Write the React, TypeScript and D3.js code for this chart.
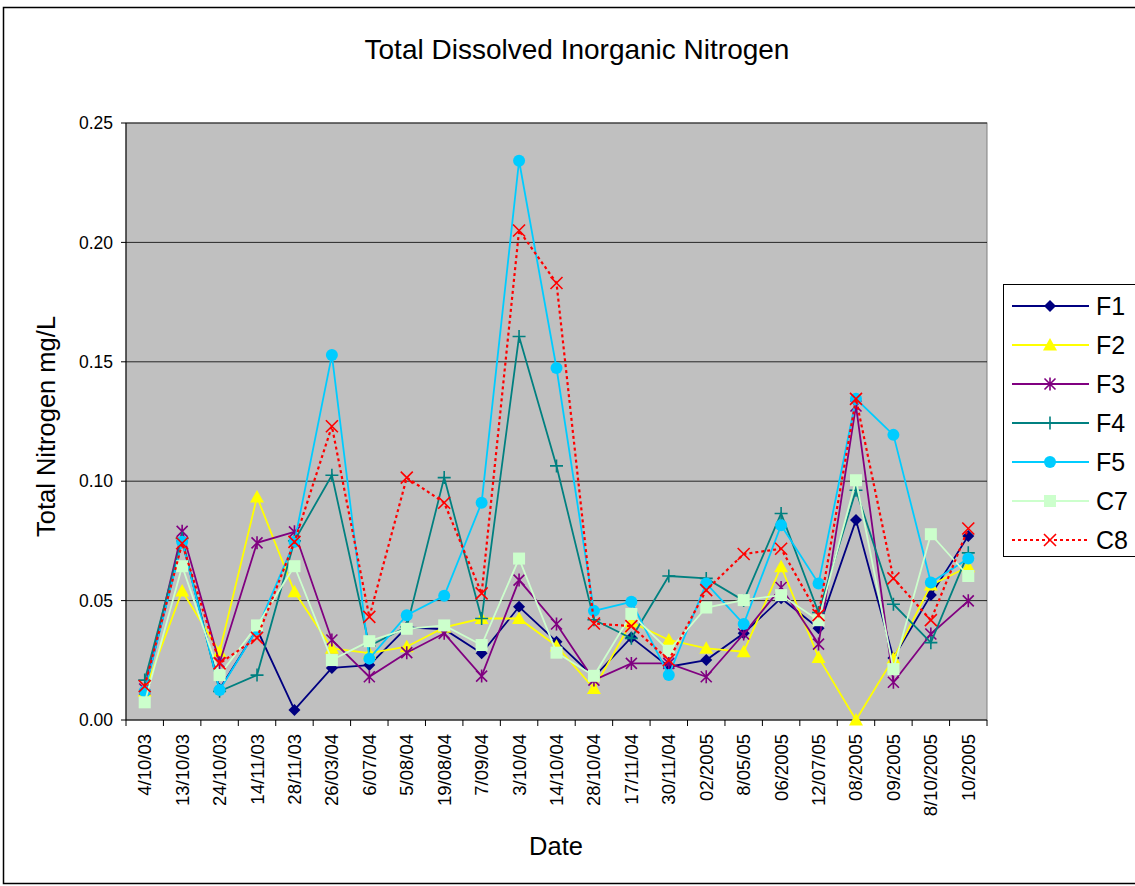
import { useMemo } from "react";
import * as d3 from "d3";

const dates = [
  "4/10/03", "13/10/03", "24/10/03", "14/11/03", "28/11/03", "26/03/04", "6/07/04", "5/08/04",
  "19/08/04", "7/09/04", "3/10/04", "14/10/04", "28/10/04", "17/11/04", "30/11/04", "02/2005",
  "8/05/05", "06/2005", "12/07/05", "08/2005", "09/2005", "8/10/2005", "10/2005",
];

const f1 = [0.0126, 0.075, 0.013, 0.038, 0.0042, 0.0218, 0.023, 0.0388, 0.038, 0.0279, 0.0474, 0.0328, 0.018, 0.0346, 0.0223, 0.0251, 0.0363, 0.051, 0.0384, 0.0837, 0.026, 0.0523, 0.0771];
const f2 = [0.012, 0.054, 0.0286, 0.0934, 0.0537, 0.03, 0.028, 0.0307, 0.0388, 0.0425, 0.0425, 0.031, 0.0132, 0.041, 0.0335, 0.03, 0.0286, 0.0642, 0.0262, 0.0, 0.0258, 0.0565, 0.0642];
const f3 = [0.013, 0.079, 0.024, 0.0742, 0.0788, 0.0335, 0.0181, 0.0282, 0.0363, 0.0184, 0.0586, 0.0402, 0.0167, 0.0237, 0.0237, 0.0181, 0.036, 0.0555, 0.0318, 0.1315, 0.0158, 0.036, 0.0499];
const f4 = [0.0167, 0.076, 0.012, 0.0188, 0.075, 0.1025, 0.031, 0.039, 0.1015, 0.0425, 0.1606, 0.1064, 0.042, 0.0342, 0.0603, 0.0593, 0.05, 0.0865, 0.045, 0.0962, 0.0485, 0.0324, 0.07];
const f5 = [0.012, 0.0746, 0.0126, 0.038, 0.0746, 0.1528, 0.0257, 0.0439, 0.052, 0.091, 0.2342, 0.1474, 0.0457, 0.0495, 0.0188, 0.0572, 0.0402, 0.0816, 0.0572, 0.1345, 0.1194, 0.0576, 0.0676];
const c7 = [0.0074, 0.0644, 0.0188, 0.0396, 0.0644, 0.0251, 0.033, 0.0382, 0.0396, 0.0314, 0.0676, 0.0282, 0.0185, 0.0444, 0.029, 0.0471, 0.0502, 0.0523, 0.0418, 0.1004, 0.0213, 0.0778, 0.0603];
const c8 = [0.0142, 0.074, 0.0237, 0.0344, 0.0746, 0.123, 0.0432, 0.1015, 0.091, 0.053, 0.205, 0.183, 0.0404, 0.0393, 0.0251, 0.0544, 0.0695, 0.0717, 0.0439, 0.1345, 0.0593, 0.0418, 0.0802];

const yTicks = [0, 0.05, 0.1, 0.15, 0.2, 0.25];

type Marker = "diamond" | "triangle" | "asterisk" | "plus" | "circle" | "square" | "x";

const series: { name: string; values: number[]; color: string; marker: Marker; dash?: string }[] = [
  { name: "F1", values: f1, color: "#000080", marker: "diamond" },
  { name: "F2", values: f2, color: "#FFFF00", marker: "triangle" },
  { name: "F3", values: f3, color: "#800080", marker: "asterisk" },
  { name: "F4", values: f4, color: "#008080", marker: "plus" },
  { name: "F5", values: f5, color: "#00CCFF", marker: "circle" },
  { name: "C7", values: c7, color: "#CCFFCC", marker: "square" },
  { name: "C8", values: c8, color: "#FF0000", marker: "x", dash: "3 3" },
];

const FONT = "'Liberation Sans', Arial, sans-serif";

// marker path centred on 0,0; stroked markers get no fill
function markerShape(m: Marker, color: string) {
  switch (m) {
    case "diamond":
      return <path d="M0,-6L6,0L0,6L-6,0Z" fill={color} />;
    case "triangle":
      return <path d="M0,-7L7,5.5L-7,5.5Z" fill={color} />;
    case "asterisk":
      return <path d="M-5.5,-5.5L5.5,5.5M-5.5,5.5L5.5,-5.5M0,-6.5V6.5" stroke={color} strokeWidth={1.6} fill="none" />;
    case "plus":
      return <path d="M-6.5,0H6.5M0,-6.5V6.5" stroke={color} strokeWidth={1.6} fill="none" />;
    case "circle":
      return <circle r={6} fill={color} />;
    case "square":
      return <rect x={-6} y={-6} width={12} height={12} fill={color} />;
    case "x":
      return <path d="M-6,-6L6,6M-6,6L6,-6" stroke={color} strokeWidth={1.6} fill="none" />;
  }
}

export default function App() {
  const width = 1135;
  const height = 886;
  const plot = { left: 126, right: 987, top: 123, bottom: 720 };

  const x = useMemo(
    () => d3.scaleBand<string>().domain(dates).range([plot.left, plot.right]).padding(0),
    []
  );
  const y = useMemo(() => d3.scaleLinear().domain([0, 0.25]).range([plot.bottom, plot.top]), []);
  const cx = (d: string) => (x(d) ?? 0) + x.bandwidth() / 2;

  const line = d3
    .line<number>()
    .x((_, i) => cx(dates[i]))
    .y((v) => y(v));

  const fmt = d3.format(".2f");
  const bounds = dates.map((d) => x(d) ?? 0).concat([plot.right]);

  return (
    <div style={{ position: "absolute", left: 0, top: 0 }}>
      <svg width={width} height={height} viewBox={`0 0 ${width} ${height}`} style={{ display: "block", fontFamily: FONT }}>
        <rect x={0} y={0} width={width} height={height} fill="#fff" />
        {/* chart border */}
        <rect x={3.5} y={7.5} width={1145} height={876} fill="none" stroke="#000" strokeWidth={1.5} />

        <text x={577} y={59} textAnchor="middle" fontSize={28} fill="#000">
          Total Dissolved Inorganic Nitrogen
        </text>

        {/* plot area */}
        <rect x={plot.left} y={plot.top} width={plot.right - plot.left} height={plot.bottom - plot.top} fill="#C0C0C0" stroke="#808080" />

        {/* grid lines */}
        {yTicks.map((t) => (
          <line key={`g-${t}`} x1={plot.left} x2={plot.right} y1={y(t)} y2={y(t)} stroke="#000" strokeWidth={1} opacity={t === 0 ? 0 : 0.8} />
        ))}

        {/* y axis */}
        <line x1={plot.left} x2={plot.left} y1={plot.top} y2={plot.bottom} stroke="#000" />
        {yTicks.map((t) => (
          <g key={`yt-${t}`} transform={`translate(${plot.left},${y(t)})`}>
            <line x1={-5} x2={0} stroke="#000" />
            <text x={-13} dy="0.35em" textAnchor="end" fontSize={17.5}>
              {fmt(t)}
            </text>
          </g>
        ))}
        <text transform={`translate(55,${(plot.top + plot.bottom) / 2 + 5}) rotate(-90)`} textAnchor="middle" fontSize={25.5}>
          Total Nitrogen mg/L
        </text>

        {/* x axis */}
        <line x1={plot.left} x2={plot.right} y1={plot.bottom} y2={plot.bottom} stroke="#000" />
        {bounds.map((b, i) => (
          <line key={`xt-${i}`} x1={b} x2={b} y1={plot.bottom} y2={plot.bottom + 6} stroke="#000" />
        ))}
        {dates.map((d) => (
          <text key={`xl-${d}`} transform={`translate(${cx(d)},${plot.bottom + 14}) rotate(-90)`} textAnchor="end" dy="0.35em" fontSize={18.5}>
            {d}
          </text>
        ))}
        <text x={556} y={855} textAnchor="middle" fontSize={25.5}>
          Date
        </text>

        {/* series */}
        {series.map((s) => (
          <g key={s.name}>
            <path d={line(s.values) ?? ""} fill="none" stroke={s.color} strokeWidth={s.dash ? 2.2 : 1.8} strokeDasharray={s.dash} />
            {s.values.map((v, i) => (
              <g key={i} transform={`translate(${cx(dates[i])},${y(v)})`}>
                {markerShape(s.marker, s.color)}
              </g>
            ))}
          </g>
        ))}

        {/* legend */}
        <g>
          <rect x={1003.5} y={284.5} width={145} height={272} fill="#fff" stroke="#000" />
          {series.map((s, i) => {
            const ly = 306 + i * 39;
            return (
              <g key={`lg-${s.name}`}>
                <line x1={1012} x2={1089} y1={ly} y2={ly} stroke={s.color} strokeWidth={s.dash ? 2.2 : 1.8} strokeDasharray={s.dash} />
                <g transform={`translate(1050,${ly})`}>{markerShape(s.marker, s.color)}</g>
                <text x={1096} y={ly} dy="0.36em" fontSize={25}>
                  {s.name}
                </text>
              </g>
            );
          })}
        </g>
      </svg>
    </div>
  );
}
